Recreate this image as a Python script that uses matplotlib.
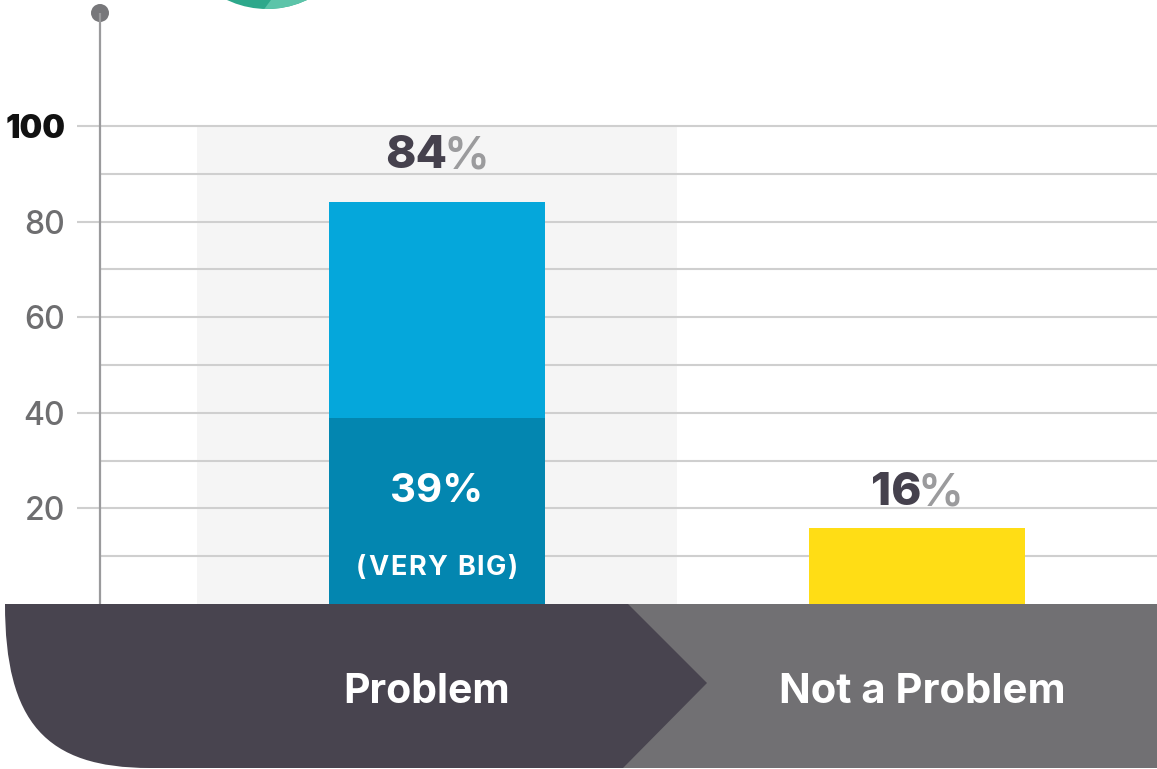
import matplotlib
matplotlib.use("Agg")
import matplotlib.pyplot as plt
from matplotlib.patches import Rectangle, Circle, PathPatch, Polygon
from matplotlib.path import Path

# ---- data ----
categories = ["Problem", "Not a Problem"]
very_big = [39, 0]          # dark segment (Problem only)
totals = [84, 16]
yticks = [20, 40, 60, 80, 100]
ytick_labels = ["20", "40", "60", "80", "100"]
minor_grid = [10, 30, 50, 70, 90]
inner_label = ["39%", "(VERY BIG)"]

FONT = ["Inter", "DejaVu Sans"]
plt.rcParams["font.family"] = FONT

W, H = 1157, 769
fig = plt.figure(figsize=(W / 100, H / 100), dpi=100)
fig.patch.set_facecolor("white")

# main axes: x pixel 100..1157, y pixel 604 (0) .. 126 (100)
ax = fig.add_axes([100 / W, (H - 604) / H, (W - 100) / W, (604 - 126) / H])
ax.set_facecolor("none")
xpx = lambda p: (p - 437) / 480.0
ax.set_xlim(xpx(100), xpx(1157))
ax.set_ylim(0, 100)
for s in ax.spines.values():
    s.set_visible(False)
ax.set_xticks([])

# highlight band behind "Problem"
ax.axvspan(-0.5, 0.5, ymin=0, ymax=1, color="#F5F5F5", zorder=0, lw=0)

# gridlines
grid_c = "#CFCFCF"
for v in yticks:
    ax.plot([xpx(77), xpx(1157)], [v, v], color=grid_c, lw=1.5, zorder=1,
            clip_on=False, solid_capstyle="butt")
for v in minor_grid:
    ax.plot([xpx(100), xpx(1157)], [v, v], color=grid_c, lw=1.5, zorder=1,
            clip_on=False, solid_capstyle="butt")

# bars
bw = 216 / 480.0
xs = [0, 1]
ax.bar(xs[0], very_big[0], width=bw, color="#0386B0", zorder=2, lw=0)
ax.bar(xs[0], totals[0] - very_big[0], bottom=very_big[0], width=bw,
       color="#05A7DB", zorder=2, lw=0)
ax.bar(xs[1], totals[1], width=bw, color="#FFDD15", zorder=2, lw=0)

# y tick labels
ax.set_yticks(yticks)
ax.set_yticklabels(ytick_labels)
ax.tick_params(axis="y", length=0, pad=25)
for lbl in ax.get_yticklabels():
    if lbl.get_text() == "100":
        lbl.set_fontsize(23)
        lbl.set_color("#111111")
        lbl.set_fontweight("black")
    else:
        lbl.set_fontsize(23)
        lbl.set_color("#6E6E70")
        lbl.set_fontweight("medium")

renderer = fig.canvas.get_renderer()
inv = ax.transData.inverted()


def two_tone(x, y, num, size):
    t1 = ax.text(x, y, num, fontsize=size, fontweight="heavy", color="#45414D",
                 ha="left", va="baseline", zorder=4)
    t2 = ax.text(x, y, "%", fontsize=size, fontweight="semibold", color="#9B9B9D",
                 ha="left", va="baseline", zorder=4)
    w1 = t1.get_window_extent(renderer).width - 4
    w2 = t2.get_window_extent(renderer).width
    cx, cy = ax.transData.transform((x, y))
    left = cx - (w1 + w2) / 2
    t1.set_position(inv.transform((left, cy)))
    t2.set_position(inv.transform((left + w1, cy)))


def tracked(x, y, s, size, track_px, **kw):
    # draw text centered at x with extra letter spacing
    parts = []
    widths = []
    for ch in s:
        t = ax.text(x, y, ch if ch != " " else "\u00a0", fontsize=size,
                    ha="left", va="baseline", **kw)
        w = t.get_window_extent(renderer).width
        if ch == " ":
            w = size * 100 / 72 * 0.25
        parts.append(t)
        widths.append(w)
    total = sum(widths) + track_px * (len(s) - 1)
    cx, cy = ax.transData.transform((x, y))
    cur = cx - total / 2
    for t, w in zip(parts, widths):
        t.set_position(inv.transform((cur, cy)))
        cur += w + track_px


two_tone(xs[0], 91.2, str(totals[0]), 33)
two_tone(xs[1], 20.7, str(totals[1]), 33)

ax.text(xs[0], 21.3, inner_label[0], fontsize=29, fontweight="bold",
        color="white", ha="center", va="baseline", zorder=4)
tracked(xs[0], 6.1, inner_label[1], 19.5, 1.6, fontweight="bold",
        color="white", zorder=4)

# overlay axes in pixel coordinates for decorations
ov = fig.add_axes([0, 0, 1, 1], zorder=5)
ov.set_xlim(0, W)
ov.set_ylim(H, 0)
ov.axis("off")
ov.patch.set_alpha(0)

# teal circle at top
ov.add_patch(Circle((267, -84), 93, color="#2DA88B", lw=0, clip_on=False))
light = Polygon([(262, 12), (420, -200), (420, 12)], closed=True,
                color="#5CC4A9", lw=0)
ov.add_patch(light)
light.set_clip_path(Circle((267, -84), 93, transform=ov.transData))

# axis line and dot
ov.plot([100, 100], [13, 604], color="#9A9A9C", lw=1.6, solid_capstyle="butt")
ov.add_patch(Circle((100, 13), 9, color="#77777A", lw=0))

# bottom band
ov.add_patch(Rectangle((600, 604), W - 600, 164, color="#717073", lw=0))
k = 0.72
verts = [(5, 604), (628, 604), (707, 683), (623, 768), (150, 768),
         (150 - k * 145, 768), (5, 604 + k * 164), (5, 604), (5, 604)]
codes = [Path.MOVETO, Path.LINETO, Path.LINETO, Path.LINETO, Path.LINETO,
         Path.CURVE4, Path.CURVE4, Path.CURVE4, Path.CLOSEPOLY]
ov.add_patch(PathPatch(Path(verts, codes), facecolor="#48444F", lw=0))

ov.text(427, 703, categories[0], fontsize=29.5, fontweight="bold", color="white",
        ha="center", va="baseline")
ov.text(922, 703, categories[1], fontsize=30, fontweight="bold", color="white",
        ha="center", va="baseline")

fig.savefig("out.png", dpi=100)
